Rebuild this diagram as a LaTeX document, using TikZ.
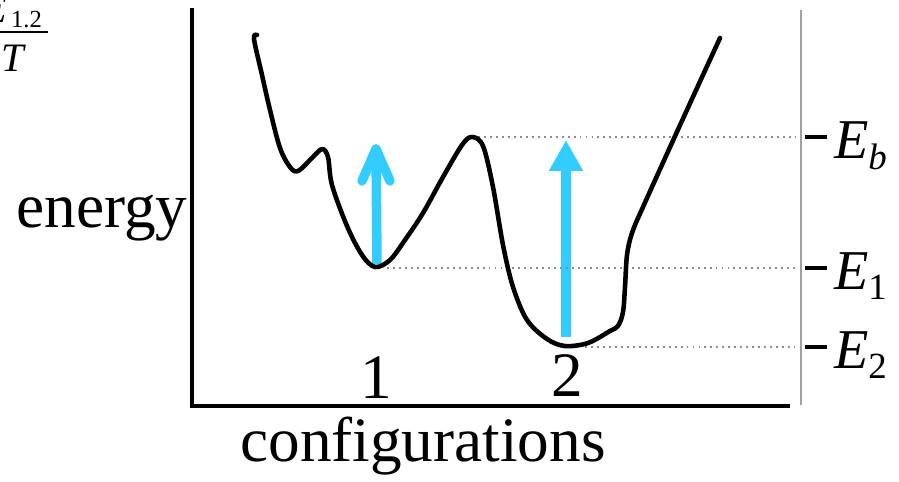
\documentclass[tikz,border=0pt]{standalone}
\usepackage{fontspec}
\setmainfont{Liberation Serif}
\usetikzlibrary{arrows.meta}
\definecolor{csky}{HTML}{33CCFF}
\definecolor{cgrey}{HTML}{8C8C8C}
\definecolor{cside}{HTML}{A0A0A0}
\newcommand{\subtext}[2]{\hbox{\fontsize{#1}{#1}\selectfont #2}}
\tikzset{
  every picture/.style={line width=2.4pt},
  axisline/.style={draw=black, line width=2.6pt, line join=miter},
  sideline/.style={draw=cside, line width=1.2pt},
  landscape/.style={draw=black, line width=2.6pt, line cap=round, line join=round},
  leveldots/.style={draw=cgrey, line width=1.2pt, dash pattern=on 1.1pt off 2.3pt},
  levelmark/.style={draw=black, line width=2.5pt},
  bigtext/.style={font=\fontsize{36}{40}\selectfont, inner sep=0pt},
  elevel/.style={font=\fontsize{32}{36}\selectfont, inner sep=0pt, anchor=base west},
  fractext/.style={font=\fontsize{23}{26}\selectfont\itshape, inner sep=0pt},
  jump/.style={draw=csky, line width=0.19cm},
}
\begin{document}
\begin{tikzpicture}[x=0.02cm, y=-0.02cm]
  \useasboundingbox (0,0) rectangle (899,482);
  \clip (0,0) rectangle (899,482);
  % ratio in the corner
  \node[fractext, anchor=base east] (numE) at (9,23) {E};
  \node[inner sep=0pt, anchor=base west, font=\fontsize{14}{16}\selectfont] (numsub) at (9,28) {1.2};
  \node[fractext, anchor=base] (denT) at (13,72) {T};
  \coordinate (barl) at (0,32);
  \coordinate (barr) at (48,32);
  \draw[line width=1pt] (barl) -- (barr);
  % axes
  \coordinate (ytop) at (192,8);
  \coordinate (origin) at (192,406);
  \coordinate (xend) at (790,406);
  \draw[axisline] (ytop) -- (origin) -- (xend);
  \coordinate (sidetop) at (801,10);
  \coordinate (sidebot) at (801,405);
  \draw[sideline] (sidetop) -- (sidebot);
  \node[bigtext, anchor=base] (energy) at (102,228) {energy};
  \node[bigtext, anchor=base] (configs) at (423,462) {configurations};
  \node[bigtext, anchor=base] (one) at (376,399) {1};
  \node[bigtext, anchor=base] (two) at (567,397) {2};
  % jumps
  \coordinate (j1a) at (377,264);
  \coordinate (j1b) at (376,149);
  \coordinate (w1l) at (362,181);
  \coordinate (w1r) at (390,181);
  \draw[jump] (j1a) -- (j1b);
  \draw[jump, line cap=round, line join=round] (w1l) -- (j1b) -- (w1r);
  \coordinate (j2a) at (566,337);
  \coordinate (j2b) at (566,140);
  \draw[jump, -{Triangle[length=0.62cm, width=0.64cm]}] (j2a) -- (j2b);
  % levels
  \coordinate (barrier) at (478,137);
  \coordinate (min1) at (387,268);
  \coordinate (min2) at (585,347);
  \coordinate (endb) at (795,137);
  \coordinate (end1) at (795,268);
  \coordinate (end2) at (795,347);
  \draw[leveldots] (barrier) -- (endb);
  \draw[leveldots] (min1) -- (end1);
  \draw[leveldots] (min2) -- (end2);
  \foreach \nm/\lv/\sub in {b/137/\itshape b, 1/268/1, 2/347/2} {
    \coordinate (tl\nm) at (805,\lv);
    \coordinate (tr\nm) at (827,\lv);
    \draw[levelmark] (tl\nm) -- (tr\nm);
    \node[elevel] (E\nm) at (832,\lv+22) {$\textit{E}_{\subtext{21}{\sub}}$};
  }
  % landscape
  \draw[landscape] plot[smooth, tension=0.55] coordinates {
    (257,35) (254,39) (262,75) (270,110) (280,148) (290,167) (298,171)
    (312,158) (322,149) (328,157) (332,185) (347,226) (362,255) (375,267)
    (390,260) (405,240) (423,213) (443,177) (462,145) (472,137) (483,146)
    (493,187) (503,245) (513,287) (527,320) (547,339) (565,346) (588,343)
    (610,331) (618,326) (623,312) (625,287) (627,255) (632,233) (643,207)
    (681,123) (720,38)};
\end{tikzpicture}
\end{document}
